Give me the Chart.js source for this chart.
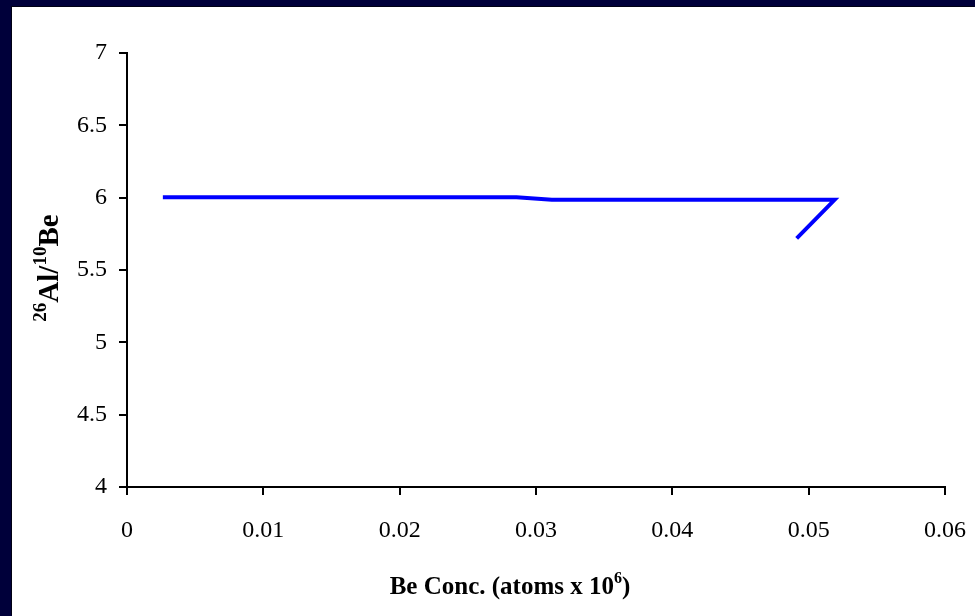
<!DOCTYPE html>
<html>
<head>
<meta charset="utf-8">
<script src="https://cdn.jsdelivr.net/npm/chart.js@4.4.0/dist/chart.umd.min.js"></script>
<style>
  html, body { margin:0; padding:0; background:#00003a; width:975px; height:616px; overflow:hidden }
  #wrap { position:absolute; left:12px; top:7px; width:963px; height:609px; background:#fff; box-shadow:-1px -1px 0 #000014 }
</style>
</head>
<body>
<div id="wrap"><canvas id="c" width="963" height="609"></canvas></div>
<script>
// Be concentration (atoms x 10^6) and 26Al/10Be ratio
const beConc = [0.00263, 0.00527, 0.0079, 0.01054, 0.01317, 0.0158, 0.01844, 0.02107, 0.02371, 0.02596, 0.02857,
                0.03116, 0.0338, 0.03636, 0.03893, 0.04157, 0.04406, 0.0467, 0.04934, 0.05190, 0.04912];
const ratio  = [6.003, 6.003, 6.003, 6.003, 6.003, 6.003, 6.003, 6.003, 6.003, 6.003, 6.003,
                5.985, 5.985, 5.985, 5.985, 5.985, 5.985, 5.985, 5.985, 5.985, 5.719];
const xTicks = [0, 0.01, 0.02, 0.03, 0.04, 0.05, 0.06];
const yTicks = [4, 4.5, 5, 5.5, 6, 6.5, 7];

const serif = "'Liberation Serif', 'Times New Roman', serif";

// draws text made of parts, some superscript
function richText(ctx, parts, x, y, size, supSize, supRise) {
  let w = 0;
  parts.forEach(p => { ctx.font = 'bold ' + (p.sup ? supSize : size) + 'px ' + serif; p.w = ctx.measureText(p.t).width; w += p.w });
  let cx = x - w / 2;
  parts.forEach(p => {
    ctx.font = 'bold ' + (p.sup ? supSize : size) + 'px ' + serif;
    ctx.fillText(p.t, cx, p.sup ? y - supRise : y);
    cx += p.w;
  });
}

const titles = {
  id: 'titles',
  afterDraw(chart) {
    const ctx = chart.ctx;
    ctx.save();
    ctx.fillStyle = '#000';
    ctx.textBaseline = 'alphabetic';
    ctx.textAlign = 'left';
    // x title
    richText(ctx, [{t:'Be Conc. (atoms x 10'}, {t:'6', sup:true}, {t:')'}], 498, 587, 25, 16, 11);
    // y title, rotated
    ctx.translate(46, 261);
    ctx.rotate(-Math.PI / 2);
    richText(ctx, [{t:'26', sup:true}, {t:'Al/'}, {t:'10', sup:true}, {t:'Be'}], 0, 0, 29, 19, 12);
    ctx.restore();
  }
};

const tickStyle = { color:'#000', font:{ family:serif, size:24 } };

new Chart(document.getElementById('c'), {
  type: 'line',
  data: {
    datasets: [{
      data: beConc.map((x, i) => ({ x, y: ratio[i] })),
      borderColor: '#0000ff', borderWidth: 4, pointRadius: 0, tension: 0, fill: false
    }]
  },
  options: {
    responsive: false, animation: false,
    layout: { padding: { left:0, top:46, right:30, bottom:0 } },
    plugins: { legend:{ display:false }, tooltip:{ enabled:false } },
    scales: {
      x: {
        type: 'linear', min: 0, max: 0.06,
        afterBuildTicks: s => { s.ticks = xTicks.map(v => ({ value:v })) },
        afterFit: s => { s.height = 129; s.paddingLeft = 0; s.paddingRight = 0 },
        ticks: { ...tickStyle, padding: 21, maxRotation:0, callback: v => String(+v.toFixed(2)) },
        grid: { drawOnChartArea:false, tickLength:8, color:'#000', lineWidth:2 },
        border: { color:'#000', width:2 }
      },
      y: {
        type: 'linear', min: 4, max: 7,
        afterBuildTicks: s => { s.ticks = yTicks.map(v => ({ value:v })) },
        afterFit: s => { s.width = 115; s.paddingTop = 0; s.paddingBottom = 0 },
        ticks: { ...tickStyle, padding: 12, callback: v => String(v) },
        grid: { drawOnChartArea:false, tickLength:8, color:'#000', lineWidth:2 },
        border: { color:'#000', width:2 }
      }
    }
  },
  plugins: [titles]
});
</script>
</body>
</html>
